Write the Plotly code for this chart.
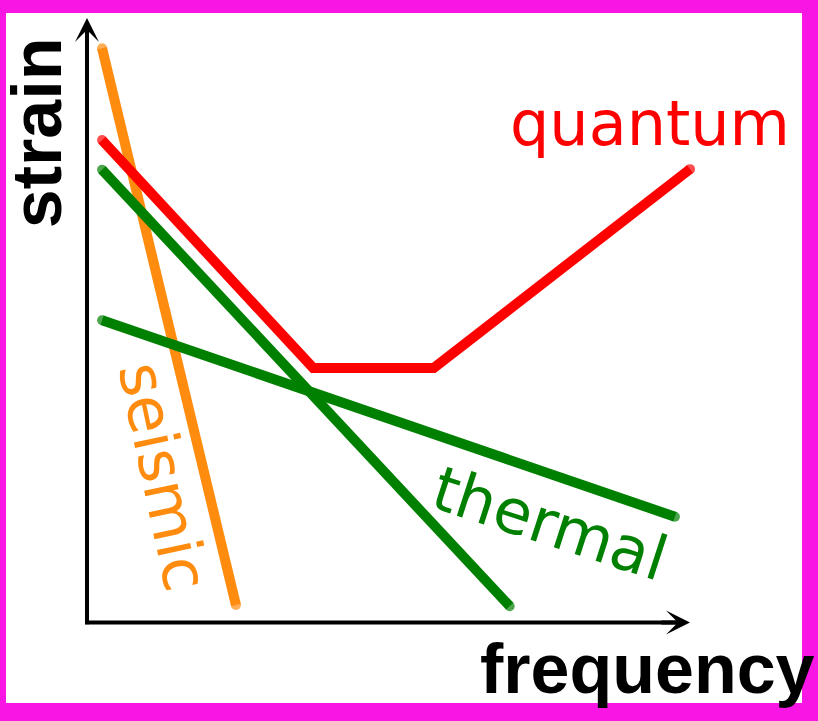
import plotly.graph_objects as go

# ---- data (schematic units: axes run from 0 to 10) ----
seismic_x = [0.25, 2.47]
seismic_y = [9.50, 0.29]

quantum_x = [0.25, 3.75, 5.75, 10.0]
quantum_y = [7.98, 4.21, 4.21, 7.50]

thermal_steep_x = [0.25, 7.01]
thermal_steep_y = [7.49, 0.27]

thermal_flat_x = [0.25, 9.75]
thermal_flat_y = [5.00, 1.75]

labels = {"seismic": "seismic", "quantum": "quantum", "thermal": "thermal"}
x_title = "frequency"
y_title = "strain"

W, H = 818, 721
ORANGE = "#ff8c0f"
RED = "#ff0000"
GREEN = "#008000"
MAGENTA = "#f915e3"
LW = 10


def caps(n):
    s = [0] * n
    s[0] = LW
    s[-1] = LW
    return s


fig = go.Figure()
for xs, ys, col in [
    (seismic_x, seismic_y, ORANGE),
    (quantum_x, quantum_y, RED),
    (thermal_steep_x, thermal_steep_y, GREEN),
    (thermal_flat_x, thermal_flat_y, GREEN),
]:
    fig.add_trace(go.Scatter(
        x=xs, y=ys, mode="lines+markers",
        line=dict(color=col, width=LW),
        marker=dict(color=col, size=caps(len(xs)), line=dict(width=0)),
        hoverinfo="skip", showlegend=False,
    ))

# axis scale: 60.3 px per unit in x, 60.45 px per unit in y
sx, sy = 60.3, 60.45
ox, oy = 87, 622.5
x0 = -ox / sx
x1 = x0 + W / sx
y1 = oy / sy
y0 = y1 - H / sy

ann = []
# axes arrow heads
ann.append(dict(x=10, y=0, ax=9.5, ay=0, xref="x", yref="y", axref="x", ayref="y",
                text="", showarrow=True, arrowhead=3, arrowsize=1.0, arrowwidth=4,
                arrowcolor="black"))
ann.append(dict(x=0, y=10, ax=0, ay=9.5, xref="x", yref="y", axref="x", ayref="y",
                text="", showarrow=True, arrowhead=3, arrowsize=1.0, arrowwidth=4,
                arrowcolor="black"))

reg = "DejaVu Sans"
bold = "Liberation Sans"
ann.append(dict(x=9.34, y=8.25, text=labels["quantum"], showarrow=False,
                xanchor="center", yanchor="middle",
                font=dict(family=reg, size=62, color=RED)))
ann.append(dict(x=1.26, y=2.41, text=labels["seismic"], showarrow=False, textangle=78,
                xanchor="center", yanchor="middle",
                font=dict(family=reg, size=62, color=ORANGE)))
ann.append(dict(x=7.68, y=1.63, text=labels["thermal"], showarrow=False, textangle=18,
                xanchor="center", yanchor="middle",
                font=dict(family=reg, size=62, color=GREEN)))
ann.append(dict(x=-0.83, y=8.11, text="<b>" + y_title + "</b>", showarrow=False, textangle=-90,
                xanchor="center", yanchor="middle",
                font=dict(family=bold, size=70, color="black")))
ann.append(dict(x=9.29, y=-0.77, text="<b>" + x_title + "</b>", showarrow=False,
                xanchor="center", yanchor="middle",
                font=dict(family=bold, size=70, color="black")))

shapes = [
    # axis lines
    dict(type="line", xref="x", yref="y", x0=-0.03, x1=9.8, y0=0, y1=0,
         line=dict(color="black", width=4), layer="above"),
    dict(type="line", xref="x", yref="y", x0=0, x1=0, y0=-0.03, y1=9.8,
         line=dict(color="black", width=4), layer="above"),
    # magenta frame
    dict(type="rect", xref="paper", yref="paper", x0=0, x1=1, y0=1 - 13 / H, y1=1,
         fillcolor=MAGENTA, line=dict(width=0), layer="above"),
    dict(type="rect", xref="paper", yref="paper", x0=0, x1=1, y0=0, y1=18 / H,
         fillcolor=MAGENTA, line=dict(width=0), layer="above"),
    dict(type="rect", xref="paper", yref="paper", x0=0, x1=6 / W, y0=0, y1=1,
         fillcolor=MAGENTA, line=dict(width=0), layer="above"),
    dict(type="rect", xref="paper", yref="paper", x0=802 / W, x1=1, y0=0, y1=1,
         fillcolor=MAGENTA, line=dict(width=0), layer="above"),
]

fig.update_layout(
    width=W, height=H,
    margin=dict(l=0, r=0, t=0, b=0, pad=0),
    paper_bgcolor="white", plot_bgcolor="white",
    xaxis=dict(range=[x0, x1], visible=False, fixedrange=True),
    yaxis=dict(range=[y0, y1], visible=False, fixedrange=True),
    annotations=ann, shapes=shapes, showlegend=False,
)

fig.write_html("out.html", config={"displayModeBar": False},
               post_script="document.body.style.margin='0';document.body.style.overflow='hidden';")
